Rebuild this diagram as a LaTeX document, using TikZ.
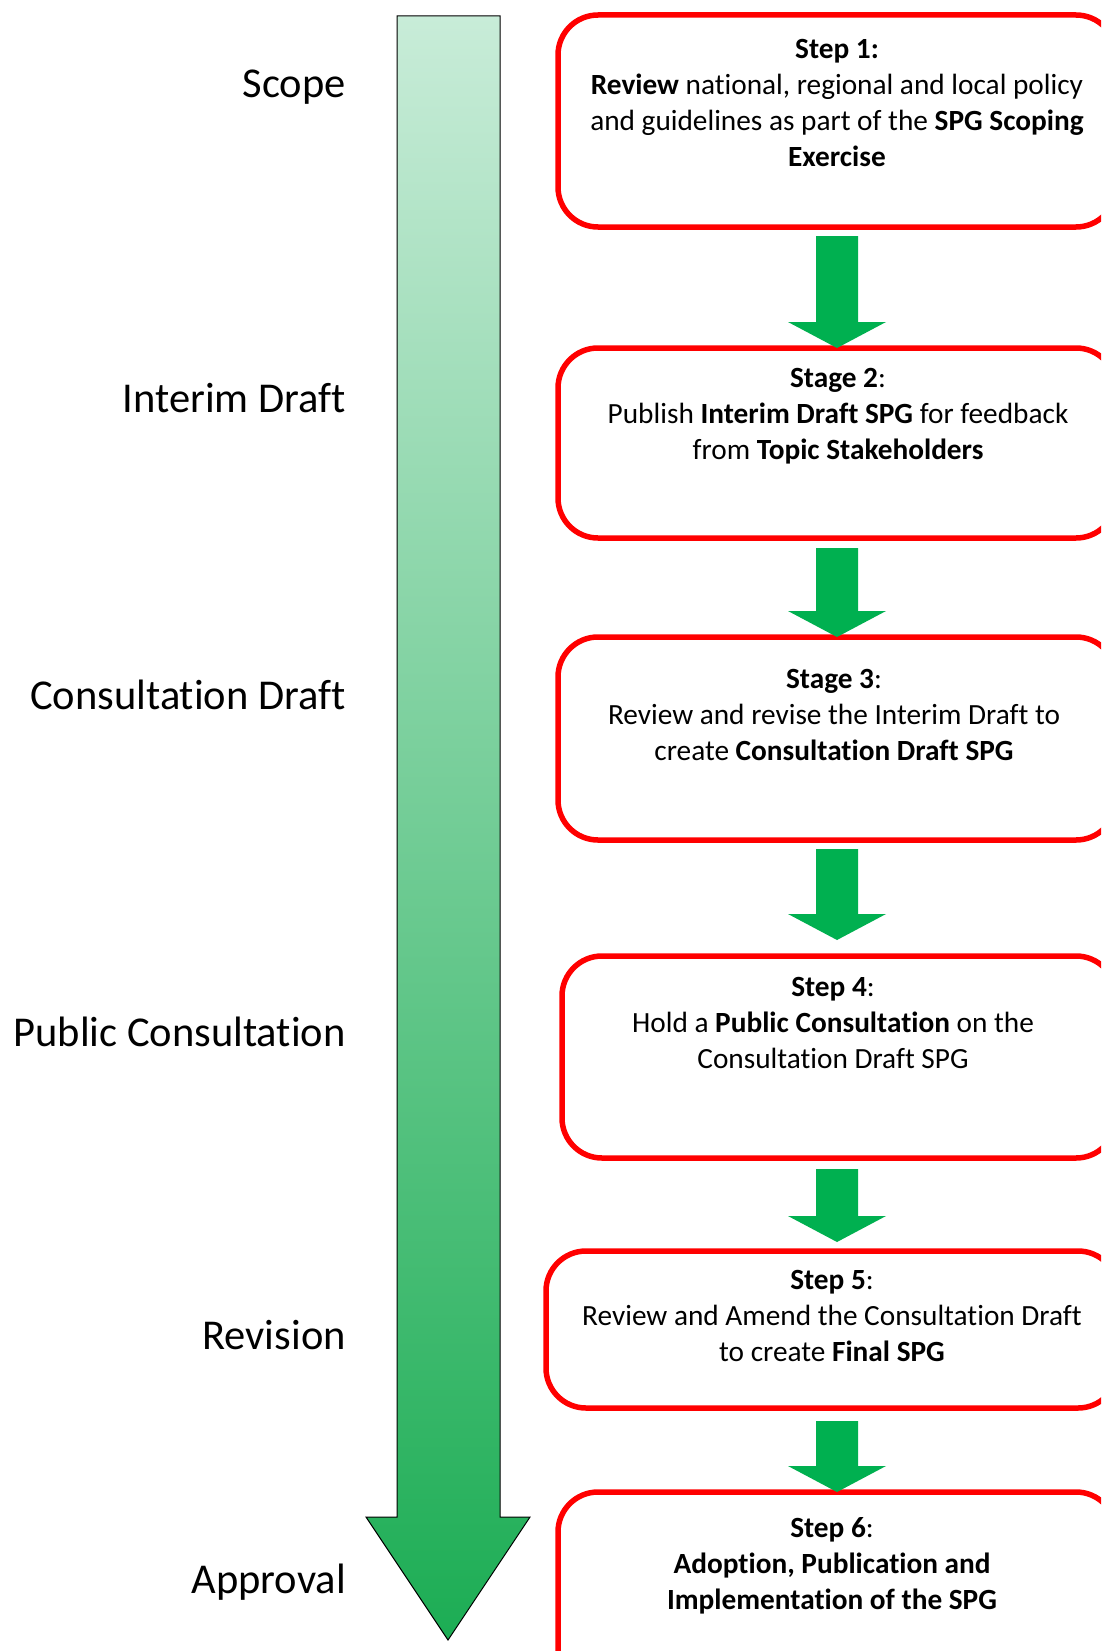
\documentclass[tikz,border=0pt]{standalone}
\usepackage{fontspec}
\setmainfont[RawFeature={-liga;-clig;-calt;-dlig;-rlig}]{Carlito}
\usetikzlibrary{calc}
\definecolor{boxred}{RGB}{255,0,0}
\definecolor{arrowgreen}{RGB}{0,176,80}
\definecolor{gradtop}{RGB}{200,236,216}
\definecolor{gradbot}{RGB}{28,173,84}
\tikzset{
  stepbox/.style={draw=boxred, line width=5.5pt, rounded corners=40pt, outer sep=0pt, inner sep=0pt, anchor=north west},
  boxtext/.style={anchor=north, align=center, inner sep=0pt, font=\fontsize{29.3}{36}\selectfont},
  phase/.style={anchor=east, inner sep=0pt, font=\fontsize{42.5}{50}\selectfont},
  conn/.style={fill=arrowgreen},
  bigarrow/.style={top color=gradtop, bottom color=gradbot, draw=black, line width=1pt},
}
% #1 from node, #2 to node, #3 gap below #1, #4 gap above #2
\newcommand\stageconn[4]{%
  \fill[conn] ($(#1.south -| ax)+(-21,#3)$) -- ($(#2.north -| ax)+(-21,-26-#4)$)
    -- ($(#2.north -| ax)+(-49,-26-#4)$) -- ($(#2.north -| ax)+(0,-#4)$)
    -- ($(#2.north -| ax)+(49,-26-#4)$) -- ($(#2.north -| ax)+(21,-26-#4)$)
    -- ($(#1.south -| ax)+(21,#3)$) -- cycle;}
\begin{document}
\begin{tikzpicture}[x=1pt,y=-1pt]
\useasboundingbox (0,0) rectangle (1101,1651);
\clip (0,0) rectangle (1101,1651);
\fill[white] (0,0) rectangle (1101,1651);

% big timeline arrow
\shadedraw[bigarrow] (397,16) -- (500,16) -- (500,1517) -- (530,1517) -- (448,1640)
  -- (366,1517) -- (397,1517) -- cycle;

% phase labels
\node[phase] (l1) at (346,87) {Scope};
\node[phase] (l2) at (346,398) {Interim Draft};
\node[phase] (l3) at (346,695) {Consultation Draft};
\node[phase] (l4) at (346,1032) {Public Consultation};
\node[phase] (l5) at (346,1335) {Revision};
\node[phase] (l6) at (346,1582) {Approval};

% boxes
\node[stepbox, minimum width=558pt, minimum height=212pt] (b1) at (558,15) {};
\node[stepbox, minimum width=558pt, minimum height=190pt] (b2) at (558,348) {};
\node[stepbox, minimum width=558pt, minimum height=203pt] (b3) at (558,637) {};
\node[stepbox, minimum width=554pt, minimum height=202pt] (b4) at (562,956) {};
\node[stepbox, minimum width=572pt, minimum height=157pt] (b5) at (546,1251) {};
\node[stepbox, minimum width=558pt, minimum height=210pt] (b6) at (558,1492) {};

\coordinate (ax) at (837,0);

% texts
\node[boxtext] (t1) at (837,39) {\textbf{Step 1:}\\\textbf{Review} national, regional and local policy\\and guidelines as part of the \textbf{SPG Scoping}\\\textbf{Exercise}};
\node[boxtext] (t2) at (838,368) {\textbf{Stage 2}:\\Publish \textbf{Interim Draft SPG} for feedback\\from \textbf{Topic Stakeholders}};
\node[boxtext] (t3) at (834,669) {\textbf{Stage 3}:\\Review and revise the Interim Draft to\\create \textbf{Consultation Draft SPG}};
\node[boxtext] (t4) at (833,977) {\textbf{Step 4}:\\Hold a \textbf{Public Consultation} on the\\Consultation Draft SPG};
\node[boxtext] (t5) at (832,1270) {\textbf{Step 5}:\\Review and Amend the Consultation Draft\\to create \textbf{Final SPG}};
\node[boxtext] (t6) at (832,1517) {\textbf{Step 6}:\\\textbf{Adoption, Publication and}\\\textbf{Implementation of the SPG}};

% connectors
\stageconn{b1}{b2}{9}{0}
\stageconn{b2}{b3}{10}{0}
\stageconn{b3}{b4}{9}{16}
\stageconn{b4}{b5}{11}{9}
\stageconn{b5}{b6}{13}{0}
\end{tikzpicture}
\end{document}
